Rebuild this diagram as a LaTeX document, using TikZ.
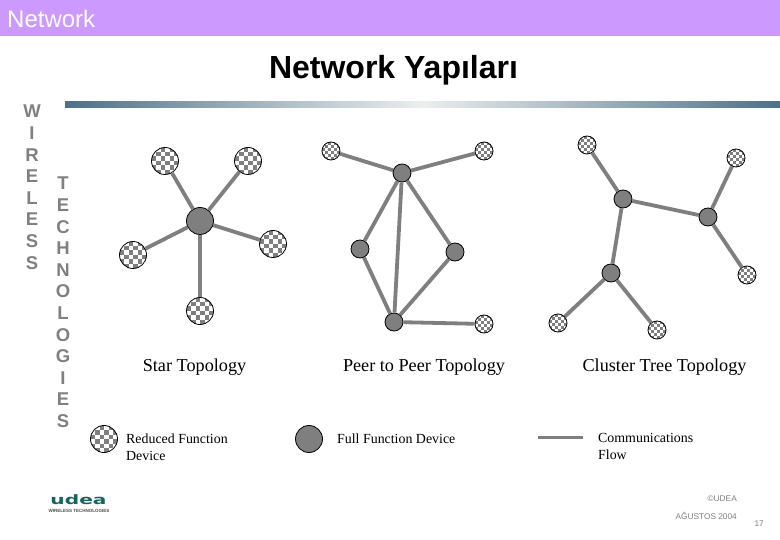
\documentclass[tikz,border=0pt]{standalone}
\usepackage{fontspec}
\setmainfont{Liberation Serif}
\setsansfont{Liberation Sans}
\newfontfamily\logofont{DejaVu Sans}
\usetikzlibrary{shadings}
\definecolor{barpurple}{HTML}{CC99FF}
\definecolor{barsteel}{HTML}{4D7189}
\definecolor{barpale}{HTML}{ECEEEE}
\definecolor{nodegray}{HTML}{7F7F7F}
\definecolor{lettergray}{HTML}{808080}
\definecolor{logoteal}{HTML}{17645F}
\newcommand{\checkcells}[1]{%
  \foreach \i in {-4,...,3} \foreach \j in {-4,...,3} {%
    \pgfmathparse{int(mod(\i+\j+8,2))}%
    \ifnum\pgfmathresult=0
      \fill[nodegray] (path picture bounding box.center) ++(\i*#1,\j*#1) rectangle ++(#1,#1);
    \fi}}

\begin{document}
\begin{tikzpicture}[
    x=1pt, y=-1pt,
    ffd/.style={circle, draw=black, line width=0.8pt, fill=nodegray, inner sep=0pt, minimum size=18pt},
    bigffd/.style={ffd, minimum size=27pt},
    rfd/.style={circle, draw=black, line width=0.8pt, fill=white, inner sep=0pt, minimum size=18pt,
                path picture={\checkcells{3}}},
    bigrfd/.style={rfd, minimum size=27pt, path picture={\checkcells{4.5}}},
    link/.style={draw=nodegray, line width=3.8pt},
    topo/.style={font=\fontsize{18.2}{21}\selectfont},
    legend/.style={font=\fontsize{13.9}{17}\selectfont, anchor=north west, align=left, inner sep=0pt},
    vert/.style={font=\sffamily\bfseries\fontsize{18.5}{21.6}\selectfont, text=lettergray, align=center, anchor=north, inner sep=0pt},
    foot/.style={font=\sffamily\fontsize{8.3}{10}\selectfont, text=lettergray, anchor=east, inner sep=0pt},
  ]
  \useasboundingbox (0,0) rectangle (780,540);

  % Header and title
  \fill[barpurple] (0,0) rectangle (780,36);
  \node[anchor=west, inner sep=0pt, text=white, font=\sffamily\fontsize{24}{28}\selectfont] (header) at (7,19) {Network};
  \node[inner sep=0pt, font=\sffamily\bfseries\fontsize{32}{36}\selectfont] (title) at (393.5,70) {Network Yapıları};
  \shade[left color=barsteel, right color=barsteel, middle color=barpale] (65,102) rectangle (780,108);

  % Vertical words on the left
  \node[vert] (wireless) at (32,105) {W\\I\\R\\E\\L\\E\\S\\S};
  \node[vert] (technologies) at (63,177) {T\\E\\C\\H\\N\\O\\L\\O\\G\\I\\E\\S};

  % Star topology
  \node[bigffd] (s0) at (200,221) {};
  \node[bigrfd] (s1) at (165,161) {};
  \node[bigrfd] (s2) at (248,161) {};
  \node[bigrfd] (s3) at (133,255) {};
  \node[bigrfd] (s4) at (273,244) {};
  \node[bigrfd] (s5) at (200,311) {};
  \foreach \leaf in {s1,s2,s3,s4,s5}
    \draw[link] (s0) -- (\leaf);

  % Peer to peer topology
  \node[ffd] (p1) at (402,173) {};
  \node[ffd] (p2) at (360,249) {};
  \node[ffd] (p3) at (455,252) {};
  \node[ffd] (p4) at (394,322) {};
  \node[rfd] (p5) at (331,151) {};
  \node[rfd] (p6) at (484,151) {};
  \node[rfd] (p7) at (484,324) {};
  \foreach \a/\b in {p1/p5,p1/p6,p1/p2,p1/p3,p1/p4,p2/p4,p3/p4,p4/p7}
    \draw[link] (\a) -- (\b);

  % Cluster tree topology
  \node[ffd] (c1) at (623,199) {};
  \node[ffd] (c2) at (708,217) {};
  \node[ffd] (c3) at (611,273) {};
  \node[rfd] (c4) at (587,145) {};
  \node[rfd] (c5) at (736,158) {};
  \node[rfd] (c6) at (747,275) {};
  \node[rfd] (c7) at (558,323) {};
  \node[rfd] (c8) at (657,330) {};
  \foreach \a/\b in {c1/c4,c1/c2,c1/c3,c2/c5,c2/c6,c3/c7,c3/c8}
    \draw[link] (\a) -- (\b);

  % Captions
  \node[topo] (startxt) at (194.5,367.5) {Star Topology};
  \node[topo] (peertxt) at (424,367.5) {Peer to Peer Topology};
  \node[topo] (clustertxt) at (664.5,367.5) {Cluster Tree Topology};

  % Legend
  \node[bigrfd] (legrfd) at (104,439) {};
  \node[legend] (legrfdtxt) at (126,433.5) {Reduced Function\\Device};
  \node[bigffd] (legffd) at (309,439) {};
  \node[legend] (legffdtxt) at (337,433.5) {Full Function Device};
  \coordinate (legstart) at (538,437);
  \coordinate (legend) at (583,437);
  \draw[link, line width=3pt] (legstart) -- (legend);
  \node[legend] (legflowtxt) at (598,433.5) {Communications\\Flow};

  % Logo and footer
  \node[inner sep=0pt, xscale=1.55, text=logoteal, font=\logofont\bfseries\fontsize{13}{13}\selectfont] (logo) at (78.5,500) {udea};
  \node[inner sep=0pt, text=black!70, font=\sffamily\bfseries\fontsize{4.5}{5}\selectfont] (logosub) at (79,511) {WIRELESS TECHNOLOGIES};
  \node[foot] (copyr) at (737,499) {©UDEA};
  \node[foot] (date) at (737,516) {AĞUSTOS 2004};
  \node[foot] (pageno) at (764,524) {17};
\end{tikzpicture}
\end{document}
